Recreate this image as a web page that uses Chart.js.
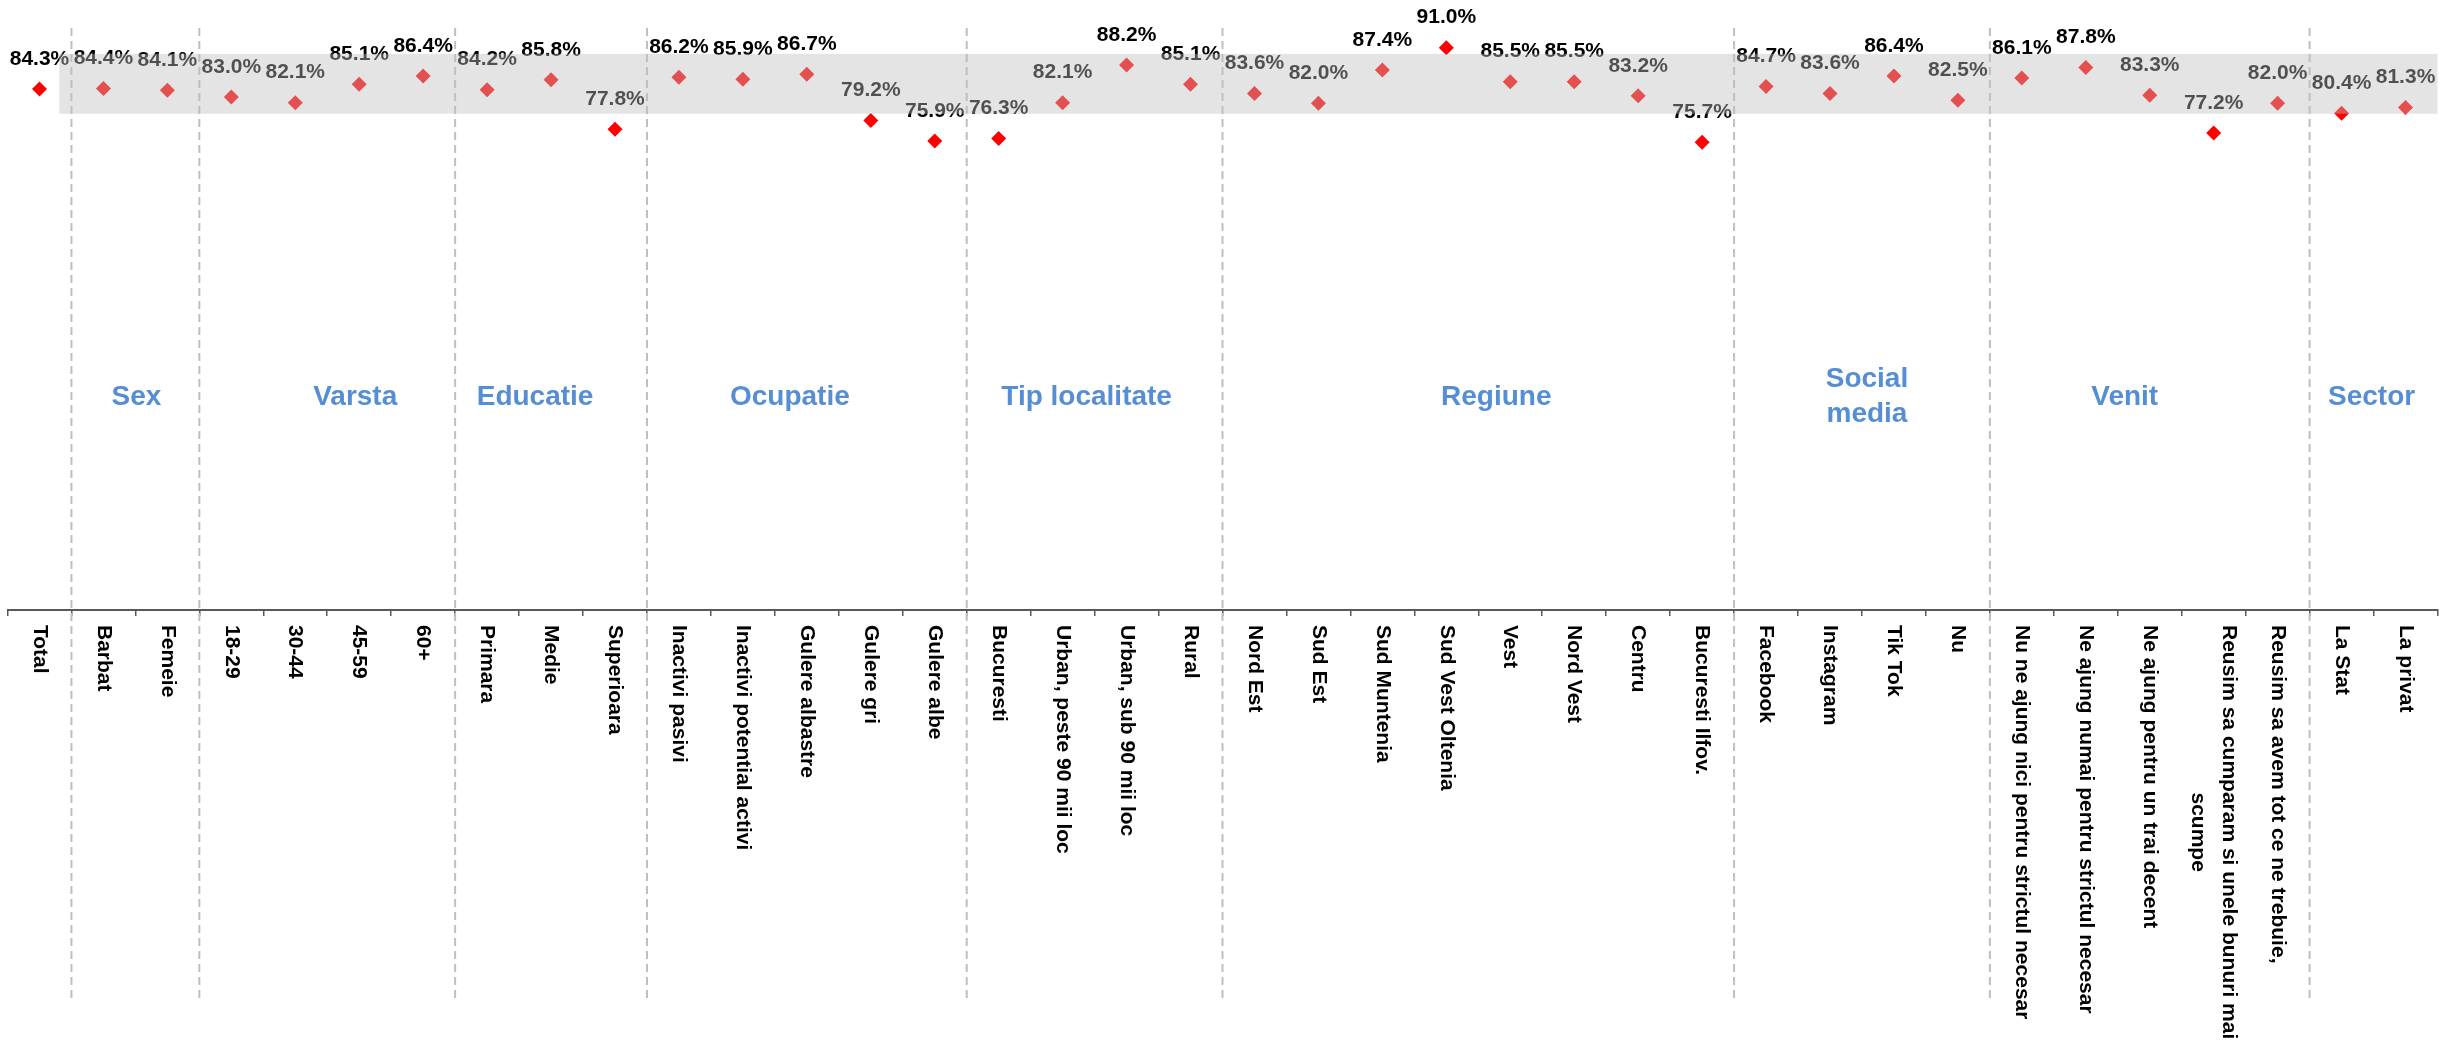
<!DOCTYPE html>
<html>
<head>
<meta charset="utf-8">
<script src="https://cdn.jsdelivr.net/npm/chart.js@4"></script>
<style>
  body { margin: 0; background: #fff; }
  #wrap { width: 2445px; height: 1047px; position: relative; }
</style>
</head>
<body>
<div id="wrap"><canvas id="satChart"></canvas></div>
<script>
const ctx = document.getElementById('satChart').getContext('2d');

const categories = [
    'Total',
    'Barbat', 'Femeie',
    '18-29', '30-44', '45-59', '60+',
    'Primara', 'Medie', 'Superioara',
    'Inactivi pasivi', 'Inactivi potential activi', 'Gulere albastre', 'Gulere gri', 'Gulere albe',
    'Bucuresti', 'Urban, peste 90 mii loc', 'Urban, sub 90 mii loc', 'Rural',
    'Nord Est', 'Sud Est', 'Sud Muntenia', 'Sud Vest Oltenia', 'Vest', 'Nord Vest', 'Centru', 'Bucuresti Ilfov.',
    'Facebook', 'Instagram', 'Tik Tok', 'Nu',
    'Nu ne ajung nici pentru strictul necesar', 'Ne ajung numai pentru strictul necesar', 'Ne ajung pentru un trai decent',
    ['Reusim sa cumparam si unele bunuri mai', 'scumpe'], 'Reusim sa avem tot ce ne trebuie,',
    'La Stat', 'La privat'
];

const values = [
    84.3,
    84.4, 84.1,
    83.0, 82.1, 85.1, 86.4,
    84.2, 85.8, 77.8,
    86.2, 85.9, 86.7, 79.2, 75.9,
    76.3, 82.1, 88.2, 85.1,
    83.6, 82.0, 87.4, 91.0, 85.5, 85.5, 83.2, 75.7,
    84.7, 83.6, 86.4, 82.5,
    86.1, 87.8, 83.3, 77.2, 82.0,
    80.4, 81.3
];

const groupNames = ['Sex', 'Varsta', 'Educatie', 'Ocupatie', 'Tip localitate', 'Regiune', ['Social', 'media'], 'Venit', 'Sector'];
const groupSizes = [2, 4, 3, 5, 4, 8, 4, 5, 2];

// grey band (percent range) and where it starts on the category axis
const bandRange = [80.3, 90.0];
const bandStart = 0.31;

// small nudges of the group titles, like the hand placed text boxes
const groupShift = [1, 28, -16, -17, -8, 18, 5, -25, -2];

const FONT = '"Liberation Sans", Arial, sans-serif';

const overlayPlugin = {
    id: 'overlay',
    afterDatasetsDraw(chart) {
        const c = chart.ctx;
        const meta = chart.getDatasetMeta(0);
        c.save();
        c.font = 'bold 21px ' + FONT;
        c.fillStyle = '#000';
        c.textAlign = 'center';
        c.textBaseline = 'middle';
        meta.data.forEach((pt, i) => {
            c.fillText(values[i].toFixed(1) + '%', pt.x, pt.y - 30);
        });
        c.restore();
    },
    afterDraw(chart) {
        const c = chart.ctx;
        const x = chart.scales.x;
        const y = chart.scales.y;
        const area = chart.chartArea;

        // band drawn on top, semi transparent
        c.save();
        const bx = x.getPixelForValue(bandStart);
        const top = y.getPixelForValue(bandRange[1]);
        const bot = y.getPixelForValue(bandRange[0]);
        c.fillStyle = 'rgba(190,190,190,0.42)';
        c.fillRect(bx, top, area.right - bx, bot - top);
        c.restore();

        // dashed separators and group titles
        c.save();
        c.strokeStyle = '#BFBFBF';
        c.lineWidth = 2;
        c.setLineDash([8, 5]);
        let start = 1;
        groupSizes.forEach((n, g) => {
            const lx = x.getPixelForValue(start - 0.5);
            c.beginPath();
            c.moveTo(lx, 28);
            c.lineTo(lx, 1000);
            c.stroke();

            const cx = (x.getPixelForValue(start - 0.5) + x.getPixelForValue(start + n - 0.5)) / 2 + groupShift[g];
            c.font = 'bold 28px ' + FONT;
            c.fillStyle = '#558ED5';
            c.textAlign = 'center';
            c.textBaseline = 'middle';
            const lines = Array.isArray(groupNames[g]) ? groupNames[g] : [groupNames[g]];
            lines.forEach((ln, k) => {
                c.fillText(ln, cx, 397 + (k - (lines.length - 1) / 2) * 35);
            });
            start += n;
        });
        c.restore();

        // category labels, rotated clockwise
        c.save();
        c.font = 'bold 21px ' + FONT;
        c.fillStyle = '#000';
        c.textBaseline = 'middle';
        const axisY = area.bottom;
        categories.forEach((lab, i) => {
            const lines = Array.isArray(lab) ? lab : [lab];
            const w = Math.max(...lines.map(l => c.measureText(l).width));
            const px = x.getPixelForValue(i);
            c.save();
            c.translate(px, axisY + 15);
            c.rotate(Math.PI / 2);
            c.textAlign = 'center';
            lines.forEach((ln, k) => {
                c.fillText(ln, w / 2, (k - (lines.length - 1) / 2) * 31);
            });
            c.restore();
        });
        c.restore();
    }
};

const data = {
    labels: categories,
    datasets: [{
        data: values,
        showLine: false,
        pointStyle: 'rectRot',
        pointRadius: 7.5,
        pointHoverRadius: 7.5,
        pointBackgroundColor: '#FF0000',
        pointBorderWidth: 0,
        borderColor: '#FF0000'
    }]
};

const config = {
    type: 'line',
    data: data,
    options: {
        responsive: true,
        maintainAspectRatio: false,
        animation: false,
        layout: {
            padding: { left: 1, right: 0, top: 0, bottom: 431 }
        },
        scales: {
            x: {
                offset: true,
                grid: {
                    offset: true,
                    drawOnChartArea: false,
                    drawTicks: true,
                    tickLength: 6,
                    color: '#595959',
                    lineWidth: 1.5
                },
                border: { color: '#595959', width: 2 },
                ticks: { display: false }
            },
            y: {
                display: false,
                min: 0,
                max: 97.5
            }
        },
        plugins: {
            legend: { display: false },
            tooltip: { enabled: false }
        }
    },
    plugins: [overlayPlugin]
};

const satChart = new Chart(ctx, config);
</script>
</body>
</html>
